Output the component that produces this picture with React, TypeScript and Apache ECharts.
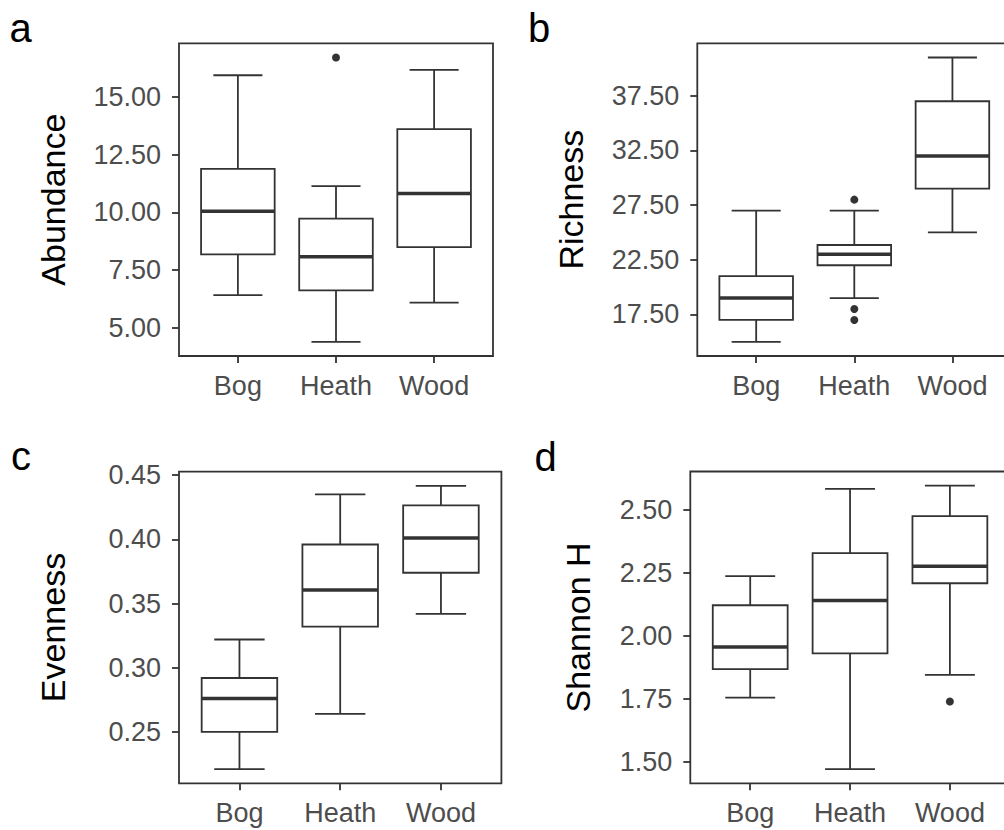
import React, { useEffect, useRef } from 'react';
import * as echarts from 'echarts';

const categories = ['Bog', 'Heath', 'Wood'];

// Each row: [lower whisker, Q1, median, Q3, upper whisker]
const abundanceStats = [
  [6.41, 8.18, 10.05, 11.89, 15.95],
  [4.39, 6.62, 8.08, 9.73, 11.14],
  [6.09, 8.5, 10.82, 13.61, 16.18],
];
const abundanceOutliers: [string, number][] = [['Heath', 16.72]];
const abundanceTicks = [5, 7.5, 10, 12.5, 15];

const richnessStats = [
  [15, 17, 19, 21, 27],
  [19, 22, 23, 23.85, 27],
  [25, 29, 32, 37, 41],
];
const richnessOutliers: [string, number][] = [
  ['Heath', 28],
  ['Heath', 18],
  ['Heath', 17],
];
const richnessTicks = [17.5, 22.5, 27.5, 32.5, 37.5];

const evennessStats = [
  [0.221, 0.25, 0.276, 0.292, 0.322],
  [0.264, 0.332, 0.3605, 0.396, 0.435],
  [0.342, 0.374, 0.401, 0.4265, 0.4417],
];
const evennessOutliers: [string, number][] = [];
const evennessTicks = [0.25, 0.3, 0.35, 0.4, 0.45];

const shannonStats = [
  [1.754, 1.868, 1.956, 2.1215, 2.237],
  [1.47, 1.93, 2.14, 2.329, 2.584],
  [1.845, 2.209, 2.277, 2.476, 2.597],
];
const shannonOutliers: [string, number][] = [['Wood', 1.739]];
const shannonTicks = [1.5, 1.75, 2.0, 2.25, 2.5];

const panelLetters = ['a', 'b', 'c', 'd'];
const panelTitles = ['Abundance', 'Richness', 'Evenness', 'Shannon H'];
const panelStats = [abundanceStats, richnessStats, evennessStats, shannonStats];
const panelOutliers = [abundanceOutliers, richnessOutliers, evennessOutliers, shannonOutliers];
const panelTicks = [abundanceTicks, richnessTicks, evennessTicks, shannonTicks];

const FONT = '"Liberation Sans", Arial, Helvetica, sans-serif';
const INK = '#333333';
const LABEL = '#4D4D4D';

// layout (pixels)
const gridLayout = [
  { left: 179, top: 43.3, width: 314, height: 312.7 },
  { left: 697.3, top: 43.3, width: 314, height: 312.7 },
  { left: 179, top: 471.7, width: 322.4, height: 311.6 },
  { left: 690.3, top: 471.5, width: 319.5, height: 311.8 },
];
const letterPos = [
  { left: 9.5, top: 8 },
  { left: 528, top: 8 },
  { left: 11, top: 436 },
  { left: 534.5, top: 437 },
];
const nameGaps = [109, 109, 109, 95];

function yRange(stats: number[][], outliers: [string, number][]) {
  const vals: number[] = [];
  stats.forEach((s) => vals.push(...s));
  outliers.forEach((o) => vals.push(o[1]));
  const lo = Math.min(...vals);
  const hi = Math.max(...vals);
  const pad = (hi - lo) * 0.05;
  return [lo - pad, hi + pad];
}

const renderBox = (params: any, api: any) => {
  const x = api.value(0);
  const lo = api.value(1);
  const q1 = api.value(2);
  const med = api.value(3);
  const q3 = api.value(4);
  const hi = api.value(5);
  const cx = api.coord([x, lo])[0];
  const yLo = api.coord([x, lo])[1];
  const yHi = api.coord([x, hi])[1];
  const capL = api.coord([x - 0.25, lo])[0];
  const capR = api.coord([x + 0.25, lo])[0];
  const boxTL = api.coord([x - 0.375, q3]);
  const boxBR = api.coord([x + 0.375, q1]);
  const yMed = api.coord([x, med])[1];
  const lineStyle = { stroke: INK, lineWidth: 1.8, fill: null };
  return {
    type: 'group',
    children: [
      { type: 'line', shape: { x1: cx, y1: yHi, x2: cx, y2: yLo }, style: lineStyle },
      { type: 'line', shape: { x1: capL, y1: yHi, x2: capR, y2: yHi }, style: lineStyle },
      { type: 'line', shape: { x1: capL, y1: yLo, x2: capR, y2: yLo }, style: lineStyle },
      {
        type: 'rect',
        shape: { x: boxTL[0], y: boxTL[1], width: boxBR[0] - boxTL[0], height: boxBR[1] - boxTL[1] },
        style: { fill: '#ffffff', stroke: INK, lineWidth: 1.8 },
      },
      {
        type: 'line',
        shape: { x1: boxTL[0], y1: yMed, x2: boxBR[0], y2: yMed },
        style: { stroke: INK, lineWidth: 3.5 },
      },
    ],
  };
};

export default function App() {
  const ref = useRef<HTMLDivElement>(null);
  useEffect(() => {
    if (!ref.current) return;
    const chart = echarts.init(ref.current, undefined, { renderer: 'svg' });
    const grid = gridLayout.map((g) => ({
      ...g,
      show: true,
      borderColor: INK,
      borderWidth: 1.8,
      backgroundColor: 'transparent',
      containLabel: false,
      outerBoundsMode: 'none',
    }));
    const xAxis = panelLetters.map((_, i) => ({
      type: 'value',
      gridIndex: i,
      min: 0.4,
      max: 3.6,
      axisLine: { show: false },
      splitLine: { show: false },
      axisTick: {
        show: true,
        customValues: [1, 2, 3],
        length: 7,
        lineStyle: { color: INK, width: 1.8 },
      },
      axisLabel: {
        customValues: [1, 2, 3],
        formatter: (v: number) => categories[Math.round(v) - 1],
        fontSize: 27,
        fontFamily: FONT,
        color: LABEL,
        margin: 16,
      },
    }));
    const yAxis = panelLetters.map((_, i) => {
      const [mn, mx] = yRange(panelStats[i], panelOutliers[i]);
      return {
        type: 'value',
        gridIndex: i,
        min: mn,
        max: mx,
        name: panelTitles[i],
        nameLocation: 'middle',
        nameRotate: 90,
        nameGap: nameGaps[i],
        nameTextStyle: { fontSize: 34, fontFamily: FONT, color: '#000000' },
        axisLine: { show: false },
        splitLine: { show: false },
        axisTick: {
          show: true,
          customValues: panelTicks[i],
          length: 7,
          lineStyle: { color: INK, width: 1.8 },
        },
        axisLabel: {
          customValues: panelTicks[i],
          formatter: (v: number) => v.toFixed(2),
          fontSize: 27,
          fontFamily: FONT,
          color: LABEL,
          margin: 18,
        },
      };
    });
    const series: any[] = [];
    panelLetters.forEach((_, i) => {
      series.push({
        type: 'custom',
        xAxisIndex: i,
        yAxisIndex: i,
        renderItem: renderBox,
        encode: { x: 0, y: [1, 2, 3, 4, 5] },
        data: panelStats[i].map((s, k) => [k + 1, ...s]),
        silent: true,
      });
      series.push({
        type: 'scatter',
        xAxisIndex: i,
        yAxisIndex: i,
        symbolSize: 8,
        itemStyle: { color: INK, opacity: 1 },
        data: panelOutliers[i].map(([cat, v]) => [categories.indexOf(cat) + 1, v]),
        silent: true,
        z: 5,
      });
    });
    const title = panelLetters.map((l, i) => ({
      text: l,
      left: letterPos[i].left,
      top: letterPos[i].top,
      padding: 0,
      textStyle: { fontSize: 40, fontWeight: 'normal', color: '#000000', fontFamily: FONT },
    }));
    chart.setOption({
      animation: false,
      backgroundColor: '#ffffff',
      textStyle: { fontFamily: FONT },
      title,
      grid,
      xAxis,
      yAxis,
      series,
    });
    return () => chart.dispose();
  }, []);
  return (
    <div
      ref={ref}
      style={{ position: 'absolute', left: 0, top: 0, width: 1004, height: 830 }}
    />
  );
}
